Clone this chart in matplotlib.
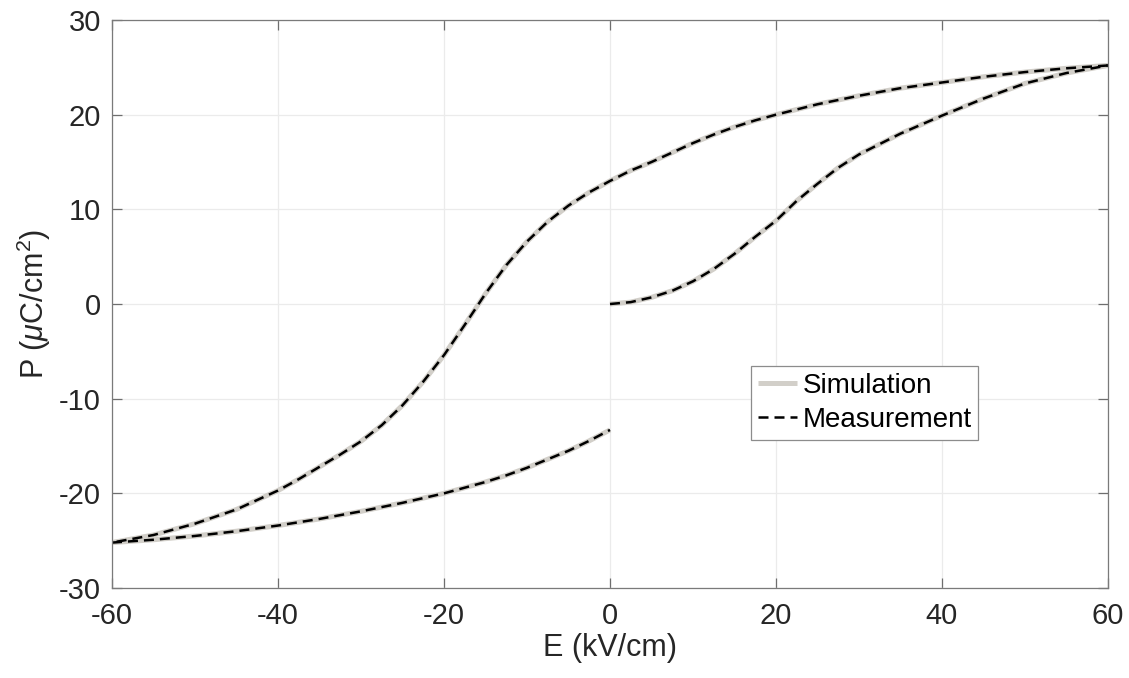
import matplotlib.pyplot as plt
import numpy as np

plt.rcParams['font.family'] = ['Liberation Sans', 'DejaVu Sans']
plt.rcParams['mathtext.fontset'] = 'custom'
plt.rcParams['mathtext.it'] = 'Liberation Sans:italic'
plt.rcParams['mathtext.rm'] = 'Liberation Sans'
plt.rcParams['axes.unicode_minus'] = False

# Initial (virgin) curve, 0 -> +60 kV/cm
e_init = [0, 2.5, 5, 7.5, 10, 12.5, 15, 17.5, 20, 22.5, 25, 27.5, 30, 35, 40,
          45, 50, 55, 60]
p_init = [0, 0.2, 0.7, 1.4, 2.4, 3.7, 5.3, 7.1, 8.8, 10.9, 12.7, 14.4, 15.8, 18.0,
          19.9, 21.7, 23.3, 24.4, 25.2]

# Descending branch, +60 -> -60 kV/cm
e_down = [60, 55, 50, 45, 40, 35, 30, 25, 20, 17.5, 15, 12.5, 10, 7.5, 5, 2.5, 0,
          -2.5, -5, -7.5, -10, -12.5, -15, -17.5, -20, -22.5, -25, -27.5, -30,
          -32.5, -35, -37.5, -40, -45, -50, -55, -60]
p_down = [25.2, 24.9, 24.5, 24.0, 23.4, 22.8, 22.0, 21.1, 20.0, 19.4, 18.7, 17.9,
          17.0, 16.0, 15.0, 14.1, 13.0, 11.8, 10.4, 8.7, 6.6, 4.1, 1.1, -2.2, -5.4,
          -8.2, -10.7, -12.8, -14.5, -15.9, -17.2, -18.5, -19.7, -21.7, -23.2,
          -24.4, -25.2]

# Return branch, -60 -> 0 kV/cm
e_up = [-60, -55, -50, -45, -40, -35, -30, -25, -20, -15, -12.5, -10, -7.5, -5, -2.5, 0]
p_up = [-25.2, -24.9, -24.5, -24.0, -23.4, -22.7, -21.9, -21.0, -20.0, -18.8, -18.1,
        -17.3, -16.4, -15.5, -14.45, -13.3]

branches = [(e_init, p_init), (e_down, p_down), (e_up, p_up)]

fig, ax = plt.subplots(figsize=(11.29, 6.78), dpi=100)
fig.subplots_adjust(left=0.0992, right=0.9814, top=0.9705, bottom=0.1327)

# gray simulation underneath, dashed measurement on top
sim_color = '#d2cfc9'
for i, (e, p) in enumerate(branches):
    ax.plot(e, p, color=sim_color, linewidth=3.6, solid_capstyle='butt',
            solid_joinstyle='round', label='Simulation' if i == 0 else None)
for i, (e, p) in enumerate(branches):
    ax.plot(e, p, color='black', linewidth=1.8, dashes=(4.0, 2.4),
            label='Measurement' if i == 0 else None)

ax.set_xlim(-60, 60)
ax.set_ylim(-30, 30)
ax.set_xticks(np.arange(-60, 61, 20))
ax.set_yticks(np.arange(-30, 31, 10))
ax.grid(True, color='#ebebeb', linewidth=0.9)
ax.set_axisbelow(True)
ax.tick_params(axis='both', direction='in', top=True, right=True, labelsize=21,
               length=7, width=0.9, color='#6e6e6e', labelcolor='#262626')
ax.tick_params(axis='x', pad=10)
ax.tick_params(axis='y', pad=8)
for s in ax.spines.values():
    s.set_color('#7a7a7a')
    s.set_linewidth(0.9)

ax.set_xlabel('E (kV/cm)', fontsize=22, color='#262626', labelpad=2)
ax.set_ylabel(r'P ($\mu$C/cm$^2$)', fontsize=22, color='#262626', labelpad=4)

leg = ax.legend(loc='upper left', bbox_to_anchor=(0.6416, 0.391), fontsize=20,
                frameon=True, fancybox=False, handlelength=1.4, handletextpad=0.2,
                borderpad=0.25, labelspacing=0.3, borderaxespad=0, framealpha=1)
leg.get_frame().set_edgecolor('#8c8c8c')
leg.get_frame().set_linewidth(0.9)

fig.savefig('out.png', dpi=100)
